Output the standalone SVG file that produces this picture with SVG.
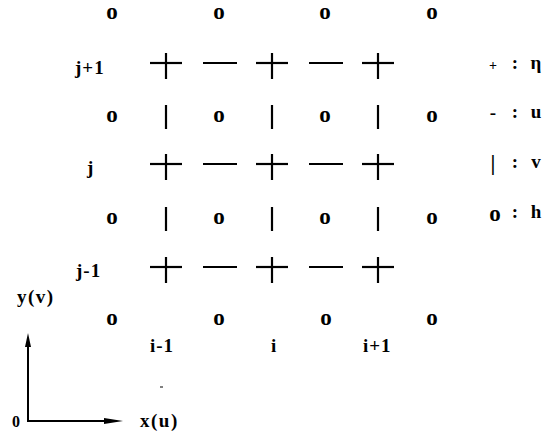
<svg xmlns="http://www.w3.org/2000/svg" xmlns:xlink="http://www.w3.org/1999/xlink" width="555" height="434" viewBox="0 0 555 434">
<style>
text { font-family: "Liberation Serif", "Times New Roman", serif; font-weight: bold; fill: #000; }
.o { font-size: 23px; text-anchor: middle; }
.lbl { font-size: 19px; letter-spacing: 1px; }
.ax { font-size: 19px; letter-spacing: 1.5px; }
.lg { font-size: 19px; text-anchor: middle; }
.sym { stroke: #000; stroke-width: 2.2; stroke-linecap: butt; fill: none; }
.axis { stroke: #000; stroke-width: 2; fill: none; }
</style>
<defs>
  <g id="plus"><line class="sym" x1="-16" y1="0" x2="16" y2="0"/><line class="sym" x1="0" y1="-10" x2="0" y2="16"/></g>
  <g id="minus"><line class="sym" x1="-17" y1="0" x2="17" y2="0"/></g>
  <g id="bar"><line class="sym" x1="0" y1="-12" x2="0" y2="12"/></g>
</defs>
<rect width="555" height="434" fill="#fff"/>

<g id="row-top">
  <text class="o" x="112" y="19">o</text>
  <text class="o" x="219" y="19">o</text>
  <text class="o" x="325" y="19">o</text>
  <text class="o" x="432" y="19">o</text>
</g>

<g id="row-j-plus-1">
  <use xlink:href="#plus" x="166" y="63"/>
  <use xlink:href="#minus" x="220" y="63"/>
  <use xlink:href="#plus" x="272" y="63"/>
  <use xlink:href="#minus" x="326" y="63"/>
  <use xlink:href="#plus" x="378" y="63"/>
</g>

<g id="row-v-upper">
  <text class="o" x="112" y="121.5">o</text>
  <use xlink:href="#bar" x="166" y="117"/>
  <text class="o" x="219" y="121.5">o</text>
  <use xlink:href="#bar" x="272" y="117"/>
  <text class="o" x="325" y="121.5">o</text>
  <use xlink:href="#bar" x="378" y="117"/>
  <text class="o" x="432" y="121.5">o</text>
</g>

<g id="row-j">
  <use xlink:href="#plus" x="166" y="164"/>
  <use xlink:href="#minus" x="220" y="164"/>
  <use xlink:href="#plus" x="272" y="164"/>
  <use xlink:href="#minus" x="326" y="164"/>
  <use xlink:href="#plus" x="378" y="164"/>
</g>

<g id="row-v-lower">
  <text class="o" x="112" y="223.5">o</text>
  <use xlink:href="#bar" x="166" y="219"/>
  <text class="o" x="219" y="223.5">o</text>
  <use xlink:href="#bar" x="272" y="219"/>
  <text class="o" x="325" y="223.5">o</text>
  <use xlink:href="#bar" x="378" y="219"/>
  <text class="o" x="432" y="223.5">o</text>
</g>

<g id="row-j-minus-1">
  <use xlink:href="#plus" x="166" y="267"/>
  <use xlink:href="#minus" x="220" y="267"/>
  <use xlink:href="#plus" x="272" y="267"/>
  <use xlink:href="#minus" x="326" y="267"/>
  <use xlink:href="#plus" x="378" y="267"/>
</g>

<g id="row-bottom">
  <text class="o" x="112" y="325">o</text>
  <text class="o" x="219" y="325">o</text>
  <text class="o" x="326" y="325">o</text>
  <text class="o" x="432" y="325">o</text>
</g>

<g id="row-labels">
  <text class="lbl" x="75" y="74">j+1</text>
  <text class="lbl" x="87" y="174">j</text>
  <text class="lbl" x="76" y="277">j-1</text>
</g>

<g id="col-labels">
  <text class="lbl" x="150" y="352">i-1</text>
  <text class="lbl" x="271" y="352">i</text>
  <text class="lbl" x="363" y="352">i+1</text>
</g>

<g id="legend">
  <text class="lg" x="493" y="70" style="font-size:14px">+</text>
  <text class="lg" x="515" y="69">:</text>
  <text class="lg" x="536" y="69">η</text>
  <text class="lg" x="493" y="119">-</text>
  <text class="lg" x="515" y="118">:</text>
  <text class="lg" x="536" y="118">u</text>
  <text class="lg" x="493" y="170" style="font-size:22px">|</text>
  <text class="lg" x="515" y="168">:</text>
  <text class="lg" x="536" y="168">v</text>
  <text class="lg" x="495" y="221" style="font-size:23px">o</text>
  <text class="lg" x="515" y="218">:</text>
  <text class="lg" x="536" y="218">h</text>
</g>

<g id="axes">
  <polyline class="axis" points="28,338 28,421 110,421"/>
  <polygon points="28,333 25,347 31,347" fill="#000"/>
  <polygon points="123,421 104,418 104,424" fill="#000"/>
  <line x1="160" y1="387" x2="163" y2="387" stroke="#000" stroke-width="1"/>
</g>

<g id="axis-labels">
  <text class="ax" x="17" y="303">y(v)</text>
  <text class="ax" x="140" y="427">x(u)</text>
  <text class="ax" x="12" y="427" style="font-size:16px">0</text>
</g>
</svg>
